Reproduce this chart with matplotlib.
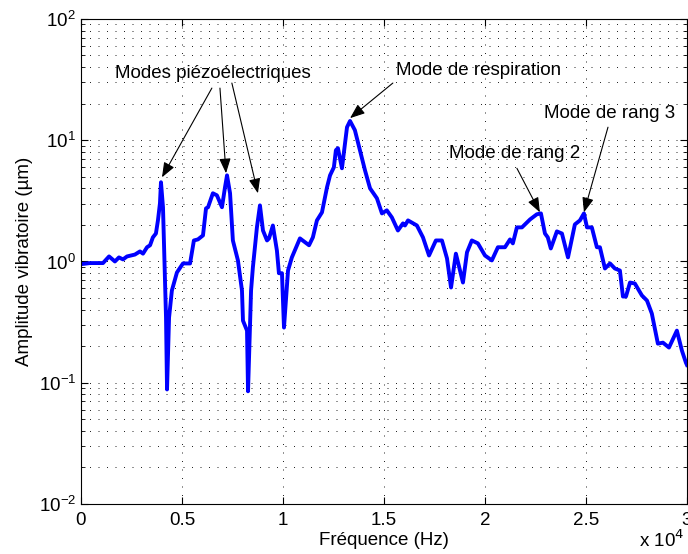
import matplotlib
matplotlib.use("Agg")
import matplotlib.pyplot as plt
from matplotlib.ticker import LogLocator, NullFormatter

plt.rcParams['font.family'] = ['Liberation Sans', 'DejaVu Sans']

# frequency (Hz) and vibration amplitude (um)
freq = [0, 450, 1090, 1390, 1680, 1880, 2080, 2280, 2670, 2920, 3070, 3270, 3420, 3560,
        3710, 3810, 3910, 3960, 4060, 4210, 4260, 4360, 4500, 4750, 5050, 5400, 5590, 5790,
        6040, 6190, 6290, 6530, 6730, 6980, 7130, 7230, 7380, 7520, 7770, 7970, 8020, 8220,
        8270, 8420, 8510, 8710, 8860, 9010, 9210, 9310, 9500, 9700, 9800, 9950, 10050, 10250,
        10440, 10840, 11290, 11480, 11680, 11930, 12180, 12330, 12520, 12620, 12720, 12920,
        13070, 13170, 13320, 13560, 13810, 14060, 14310, 14650, 14900, 15140, 15390, 15690,
        15940, 16040, 16190, 16630, 16930, 17230, 17570, 17870, 18120, 18320, 18560, 18910,
        19110, 19350, 19650, 20000, 20340, 20640, 20990, 21240, 21380, 21580, 21830, 22230,
        22570, 22770, 22970, 23110, 23260, 23560, 23810, 24110, 24450, 24700, 24900, 25050,
        25290, 25540, 25690, 25940, 26190, 26430, 26680, 26830, 26980, 27180, 27420, 27770,
        28020, 28260, 28560, 28810, 29110, 29500, 29750, 29950, 30000]
amp = [0.95, 0.97, 0.97, 1.10, 1.00, 1.08, 1.04, 1.10, 1.14, 1.21, 1.16, 1.31, 1.36, 1.58,
       1.70, 2.18, 3.02, 4.50, 2.80, 0.344, 0.088, 0.344, 0.576, 0.811, 0.963, 0.963, 1.49, 1.52,
       1.64, 2.74, 2.80, 3.65, 3.51, 2.80, 4.09, 5.13, 3.65, 1.49, 1.02, 0.576, 0.325, 0.269,
       0.085, 0.576, 0.892, 1.91, 2.90, 1.80, 1.49, 1.55, 1.98, 1.23, 0.80, 0.80, 0.285, 0.842,
       1.08, 1.55, 1.36, 1.58, 2.18, 2.54, 4.09, 5.13, 5.98, 8.27, 8.59, 5.87,
       9.44, 12.8, 14.4, 12.1, 8.27, 5.65, 4.01, 3.32, 2.49, 2.64, 2.31, 1.80,
       2.06, 1.98, 2.18, 1.98, 1.58, 1.12, 1.49, 1.49, 1.06, 0.610, 1.16, 0.670,
       1.19, 1.49, 1.41, 1.12, 1.02, 1.31, 1.31, 1.52, 1.41, 1.91, 1.91, 2.22,
       2.45, 2.49, 1.70, 1.58, 1.28, 1.77, 1.70, 1.08, 2.02, 2.18, 2.49, 1.91,
       1.91, 1.31, 1.31, 0.875, 0.963, 0.875, 0.842, 0.514, 0.514, 0.670, 0.658, 0.524,
       0.476, 0.372, 0.210, 0.214, 0.195, 0.269, 0.184, 0.146, 0.14]

xticks = [0, 5000, 10000, 15000, 20000, 25000, 30000]
xtick_labels = ["0", "0.5", "1", "1.5", "2", "2.5", "3"]

fig = plt.figure(figsize=(6.88, 5.54), dpi=100)
ax = fig.add_axes([0.1177, 0.0903, 0.8808, 0.8755])

ax.semilogy(freq, amp, color="#0000ff", lw=2.8)

ax.set_xlim(0, 30000)
ax.set_ylim(1e-2, 1e2)
ax.set_xticks(xticks)
ax.set_xticklabels(xtick_labels)
ax.yaxis.set_major_locator(LogLocator(base=10, numticks=10))
ax.yaxis.set_minor_locator(LogLocator(base=10, subs=range(2, 10), numticks=10))
ax.yaxis.set_minor_formatter(NullFormatter())

fs = 13.5
ax.tick_params(which="both", direction="in", top=True, right=True, labelsize=fs)
ax.tick_params(which="major", length=5)
ax.tick_params(which="minor", length=3)
ax.tick_params(axis="x", pad=6)

dots = (0, (1.2, 9))
ax.grid(True, which="major", axis="x", linestyle=dots, color="k", lw=0.6)
ax.grid(True, which="both", axis="y", linestyle=dots, color="k", lw=0.6)

ax.set_xlabel("Fréquence (Hz)", fontsize=fs, labelpad=2)
ax.set_ylabel("Amplitude vibratoire (µm)", fontsize=fs, labelpad=4)
fig.text(0.995, 0.005, "x 10$^4$", fontsize=fs, ha="right", va="bottom")

arrow = dict(arrowstyle="-|>,head_length=0.9,head_width=0.35", color="k", lw=0.8,
             shrinkA=0, shrinkB=0)

ax.text(6530, 35.8, "Modes piézoélectriques", fontsize=fs, ha="center", va="center")
ax.annotate("", xy=(4010, 4.94), xytext=(6480, 26.9), arrowprops=arrow)
ax.annotate("", xy=(7180, 5.34), xytext=(6880, 26.9), arrowprops=arrow)
ax.annotate("", xy=(8760, 3.65), xytext=(7470, 29.6), arrowprops=arrow)

ax.text(19700, 37.9, "Mode de respiration", fontsize=fs, ha="center", va="center")
ax.annotate("", xy=(13320, 15.2), xytext=(15440, 29.6), arrowprops=arrow)

ax.text(21480, 7.81, "Mode de rang 2", fontsize=fs, ha="center", va="center")
ax.annotate("", xy=(22720, 2.54), xytext=(21580, 5.87), arrowprops=arrow)

ax.text(26190, 16.7, "Mode de rang 3", fontsize=fs, ha="center", va="center")
ax.annotate("", xy=(24900, 2.54), xytext=(26090, 12.8), arrowprops=arrow)

fig.savefig("out.png", dpi=100)
